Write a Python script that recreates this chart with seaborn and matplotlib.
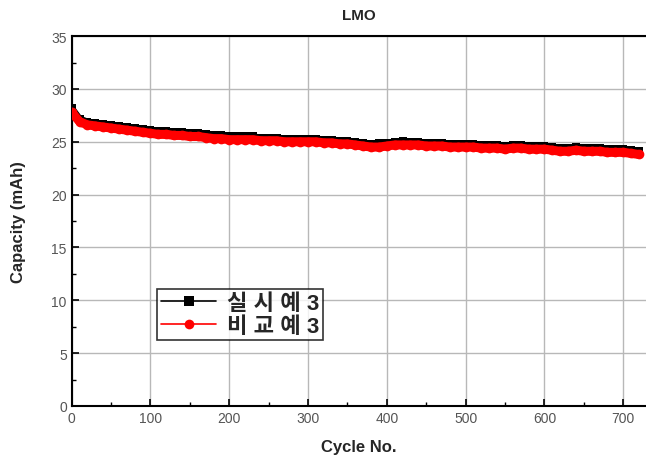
import numpy as np
import pandas as pd
import matplotlib.pyplot as plt
import seaborn as sns
from matplotlib.ticker import MultipleLocator

# Cycle numbers (sampled every 10 cycles)
cycles = list(range(0, 721, 10))

# 실시예 3 (black)
cap_example = [
    28.2, 27.2, 26.9, 26.8, 26.7, 26.6, 26.5, 26.4, 26.3, 26.2,
    26.1, 26.0, 26.0, 25.9, 25.9, 25.8, 25.8, 25.7, 25.6, 25.6,
    25.5, 25.5, 25.5, 25.5, 25.4, 25.4, 25.4, 25.3, 25.3, 25.3,
    25.3, 25.3, 25.2, 25.2, 25.1, 25.1, 25.0, 24.9, 24.8, 24.9,
    24.9, 25.0, 25.1, 25.0, 25.0, 24.9, 24.9, 24.9, 24.8, 24.8,
    24.8, 24.8, 24.7, 24.7, 24.7, 24.6, 24.7, 24.7, 24.6, 24.6,
    24.6, 24.5, 24.4, 24.4, 24.5, 24.4, 24.4, 24.4, 24.3, 24.3,
    24.3, 24.2, 24.1,
]

# 비교예 3 (red)
cap_compare = [
    27.8, 26.9, 26.6, 26.5, 26.4, 26.3, 26.2, 26.1, 26.0, 25.9,
    25.8, 25.7, 25.7, 25.6, 25.6, 25.5, 25.5, 25.4, 25.3, 25.3,
    25.2, 25.2, 25.2, 25.2, 25.1, 25.1, 25.1, 25.0, 25.0, 25.0,
    25.0, 25.0, 24.9, 24.9, 24.8, 24.8, 24.7, 24.6, 24.5, 24.5,
    24.6, 24.7, 24.7, 24.7, 24.7, 24.6, 24.6, 24.6, 24.5, 24.5,
    24.5, 24.5, 24.4, 24.4, 24.4, 24.3, 24.4, 24.4, 24.3, 24.3,
    24.3, 24.2, 24.1, 24.1, 24.2, 24.1, 24.1, 24.1, 24.0, 24.0,
    24.0, 23.9, 23.8,
]

df = pd.DataFrame({
    "cycle": cycles * 2,
    "capacity": cap_example + cap_compare,
    "sample": ["실 시 예 3"] * len(cycles) + ["비 교 예 3"] * len(cycles),
})

sns.set_style("ticks")
plt.rcParams['font.family'] = ['Liberation Sans', 'Noto Sans CJK KR', 'DejaVu Sans']

fig = plt.figure(figsize=(6.46, 4.64), dpi=100)
ax = fig.add_axes([0.111, 0.123, 0.889, 0.797])

sns.lineplot(data=df, x="cycle", y="capacity", hue="sample", style="sample",
             palette={"실 시 예 3": "black", "비 교 예 3": "#ff0000"},
             markers={"실 시 예 3": "s", "비 교 예 3": "o"},
             dashes=False, markersize=6, markeredgewidth=0, linewidth=5,
             ax=ax)
# red band thicker, drawn over the black one
ax.lines[1].set_linewidth(6.5)
ax.lines[1].set_markersize(7)
ax.lines[1].set_zorder(3)
ax.lines[0].set_linewidth(4.5)

ax.set_xlim(0, 729)
ax.set_ylim(0, 35)
ax.xaxis.set_major_locator(MultipleLocator(100))
ax.xaxis.set_minor_locator(MultipleLocator(50))
ax.yaxis.set_major_locator(MultipleLocator(5))
ax.yaxis.set_minor_locator(MultipleLocator(2.5))
ax.grid(True, which="major", color="#b8b8b8", linewidth=1)
ax.set_axisbelow(True)
ax.tick_params(which="both", direction="in", colors="black", labelcolor="#555555",
               labelsize=10)
ax.tick_params(which="major", length=5, width=1.2)
ax.tick_params(which="minor", length=3, width=1)
for side in ["left", "bottom", "top"]:
    ax.spines[side].set_linewidth(1.5)
    ax.spines[side].set_color("black")
ax.spines["right"].set_visible(False)

ax.set_title("LMO", fontsize=11, fontweight="bold", pad=12)
ax.set_xlabel("Cycle No.", fontsize=12, fontweight="bold", labelpad=10)
ax.set_ylabel("Capacity (mAh)", fontsize=12, fontweight="bold", labelpad=18)

leg = ax.legend(loc="lower left", bbox_to_anchor=(0.13, 0.148),
                prop={"size": 16, "weight": "bold"},
                frameon=True, fancybox=False, edgecolor="black", handlelength=2.5,
                borderpad=0.15, labelspacing=0.1, handletextpad=0.5)
leg.get_frame().set_linewidth(1.2)
for h in leg.get_lines():
    h.set_markersize(7)
    h.set_linewidth(1.2)

fig.savefig("out.png", dpi=100)
